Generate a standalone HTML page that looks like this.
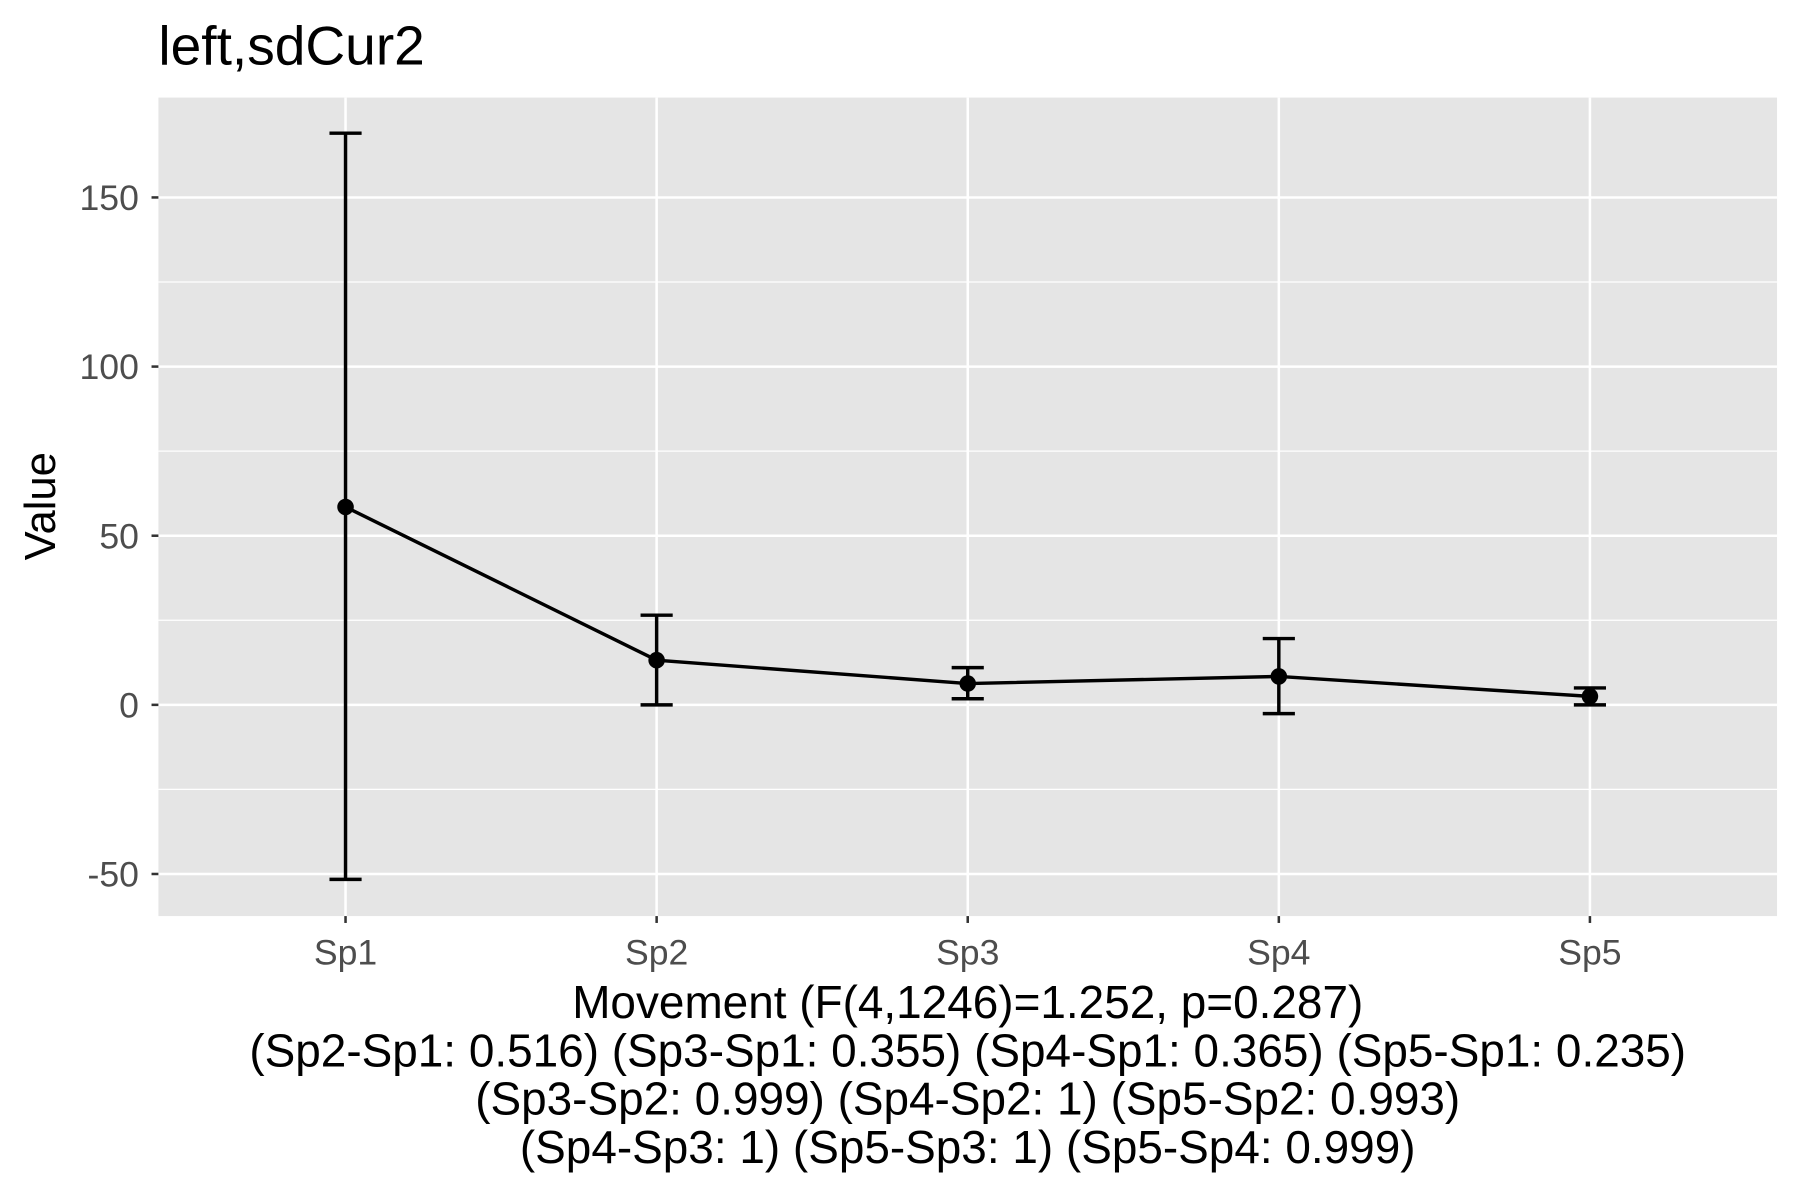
<!DOCTYPE html>
<html><head><meta charset="utf-8"><style>
html,body{margin:0;padding:0;background:#fff;}
svg{display:block;font-family:"Liberation Sans",Arial,sans-serif;}
</style></head><body>
<svg id="chart" width="1800" height="1200" viewBox="0 0 1568 1045.33" xmlns="http://www.w3.org/2000/svg">
<rect x="0" y="0" width="1568" height="1045.33" fill="#fff"/>
<text x="138" y="56" font-size="48" fill="#000">left,sdCur2</text>
<rect x="138" y="85" width="1410" height="713" fill="#e5e5e5"/>
<g id="grid"></g>
<g id="axes"></g>
<g id="marks"></g>
<text transform="translate(48,441) rotate(-90)" text-anchor="middle" font-size="38" fill="#000">Value</text>
<g font-size="40" fill="#000" text-anchor="middle">
<text x="843" y="887">Movement (F(4,1246)=1.252, p=0.287)</text>
<text x="843" y="929">(Sp2-Sp1: 0.516) (Sp3-Sp1: 0.355) (Sp4-Sp1: 0.365) (Sp5-Sp1: 0.235)</text>
<text x="843" y="971">(Sp3-Sp2: 0.999) (Sp4-Sp2: 1) (Sp5-Sp2: 0.993)</text>
<text x="843" y="1013">(Sp4-Sp3: 1) (Sp5-Sp3: 1) (Sp5-Sp4: 0.999)</text>
</g>
</svg>
<script>
const categories = ["Sp1","Sp2","Sp3","Sp4","Sp5"];
const means = [58.5, 13.2, 6.3, 8.4, 2.5];
const upper = [169, 26.5, 11, 19.6, 5];
const lower = [-51.6, 0, 1.8, -2.6, 0];
const yTicks = [-50, 0, 50, 100, 150];
const yMinor = [-25, 25, 75, 125];

const NS = "http://www.w3.org/2000/svg";
const panel = {l:138, r:1548, t:85, b:798};
const yScale = v => 614 - v * (442/150);
const xScale = i => 301 + i * 271;

function mk(tag, attrs, parent){
  const e = document.createElementNS(NS, tag);
  for (const k in attrs) e.setAttribute(k, attrs[k]);
  parent.appendChild(e);
  return e;
}
const grid = document.getElementById('grid');
const axes = document.getElementById('axes');
const marks = document.getElementById('marks');

yMinor.forEach(v => {
  const l = mk('line', {x1:panel.l, x2:panel.r, y1:yScale(v), y2:yScale(v), stroke:'#fff', 'stroke-width':1.1}, grid);
  
  
});
yTicks.forEach(v => {
  const y = yScale(v);
  const l = mk('line', {x1:panel.l, x2:panel.r, y1:y, y2:y, stroke:'#fff', 'stroke-width':2.2}, grid);
  
  
  const t = mk('line', {x1:132, x2:138, y1:y, y2:y, stroke:'#333', 'stroke-width':2.2}, axes);
  
  
  const tx = mk('text', {x:121, y:y+11, 'text-anchor':'end', 'font-size':31, fill:'#4d4d4d'}, axes);
  tx.textContent = String(v);
  
  
});
categories.forEach((c, i) => {
  const x = xScale(i);
  const l = mk('line', {x1:x, x2:x, y1:panel.t, y2:panel.b, stroke:'#fff', 'stroke-width':2.2}, grid);
  
  
  const t = mk('line', {x1:x, x2:x, y1:798, y2:804, stroke:'#333', 'stroke-width':2.2}, axes);
  
  
  const tx = mk('text', {x:x, y:840, 'text-anchor':'middle', 'font-size':31, fill:'#4d4d4d'}, axes);
  tx.textContent = c;
  
  
});

const pts = means.map((m, i) => xScale(i) + ',' + yScale(m)).join(' ');
const line = mk('polyline', {points:pts, fill:'none', stroke:'#000', 'stroke-width':3}, marks);



categories.forEach((c, i) => {
  const x = xScale(i), yu = yScale(upper[i]), yl = yScale(lower[i]);
  const g = mk('g', {stroke:'#000', 'stroke-width':3}, marks);
  
  
  mk('line', {x1:x, x2:x, y1:yu, y2:yl}, g);
  mk('line', {x1:x-14, x2:x+14, y1:yu, y2:yu}, g);
  mk('line', {x1:x-14, x2:x+14, y1:yl, y2:yl}, g);
  const p = mk('circle', {cx:x, cy:yScale(means[i]), r:7.2, fill:'#000'}, marks);
  
  
});
</script>
</body></html>
